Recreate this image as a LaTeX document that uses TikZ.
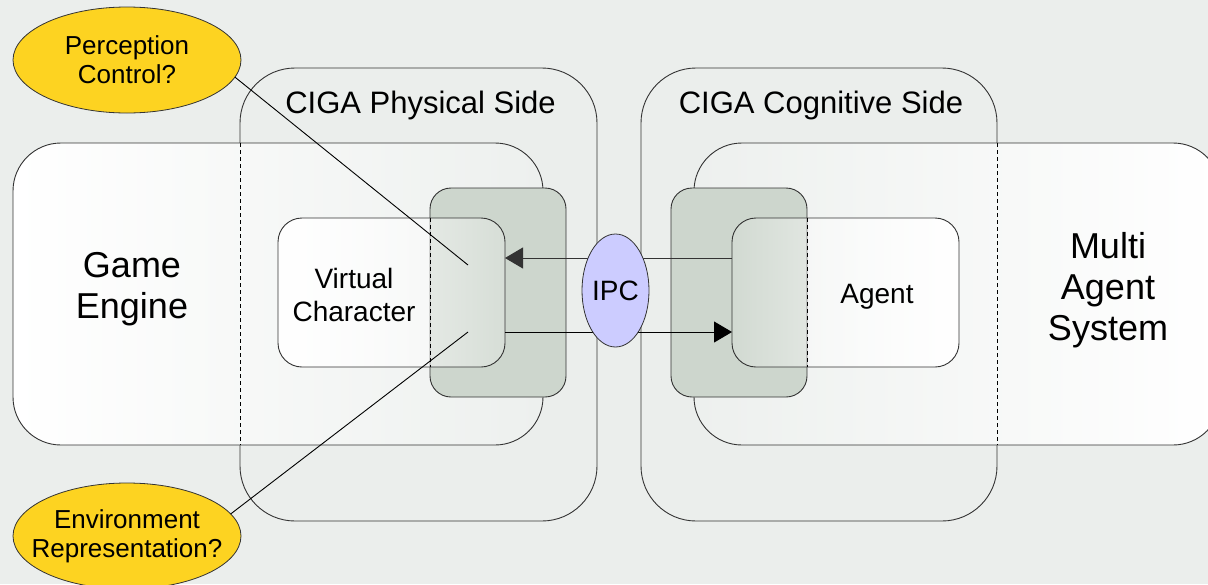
\documentclass[tikz,border=0pt]{standalone}
\usepackage{fontspec}
\setmainfont{Liberation Sans}
\usetikzlibrary{arrows.meta,positioning,shapes.geometric,fadings}

\definecolor{bgcol}{HTML}{EBEEEC}
\definecolor{zonegray}{HTML}{EDF0EE}
\definecolor{coregreen}{HTML}{CDD6CD}
\definecolor{noteyellow}{HTML}{FDD321}
\definecolor{ipcblue}{HTML}{CCCCFF}
\definecolor{edgegray}{HTML}{333333}

\tikzfading[name=fadevc, left color=transparent!0, right color=transparent!80]
\tikzfading[name=fadeagent, left color=transparent!90, right color=transparent!0]

\begin{document}
\begin{tikzpicture}[
  x=1pt, y=-1pt,
  every node/.style={inner sep=0pt, outer sep=0pt},
  side/.style={draw=edgegray, line width=0.9pt, fill=bgcol, rounded corners=55pt},
  zone/.style={draw=edgegray, line width=0.9pt, rounded corners=48pt},
  core/.style={draw=edgegray, line width=0.9pt, fill=coregreen, rounded corners=21pt,
    minimum width=136pt, minimum height=209pt},
  inner/.style={draw=edgegray, line width=0.9pt, rounded corners=24pt,
    minimum width=227pt, minimum height=149pt},
  hidden/.style={draw=black, line width=0.9pt, dash pattern=on 4pt off 3pt},
  note/.style={ellipse, draw=edgegray, line width=0.8pt, fill=noteyellow, align=center,
    inner xsep=-16pt, minimum width=228pt, minimum height=106pt,
    font=\fontsize{26}{29}\selectfont},
  arr/.style={-{Triangle[length=18pt,width=21pt]}, line width=1pt},
  pointer/.style={line width=0.9pt},
  bigtext/.style={align=center, font=\fontsize{36}{41}\selectfont},
  titletext/.style={font=\fontsize{31}{36}\selectfont},
  boxtext/.style={align=center, font=\fontsize{28}{33}\selectfont}
]
\fill[bgcol] (0,0) rectangle (1208,584);
\useasboundingbox (0,0) rectangle (1208,584);
\clip (0,0) rectangle (1208,584);

% the two CIGA sides
\node[side, minimum width=357pt, minimum height=453pt] (phys) at (418.5,294.5) {};
\node[side, minimum width=356pt, minimum height=453pt] (cog) at (819,294.5) {};

% game engine and multi agent system
\node[zone, left color=white, right color=zonegray,
  minimum width=530pt, minimum height=302pt] (engine) at (278,294) {};
\node[zone, left color=zonegray, right color=white,
  minimum width=527pt, minimum height=302pt] (mas) at (957.5,294) {};
\draw[hidden] (phys.west |- engine.north) -- (phys.west |- engine.south);
\draw[hidden] (cog.east |- mas.north) -- (cog.east |- mas.south);

% interface parts
\node[core] (physcore) at (498,292.5) {};
\node[core] (cogcore) at (739,292.5) {};
\node[inner, preaction={fill=white, path fading=fadevc}] (vc) at (391.5,292.5) {};
\node[inner, preaction={fill=white, path fading=fadeagent}] (agent) at (845.5,292.5) {};
\draw[hidden] (physcore.west |- vc.north) -- (physcore.west |- vc.south);
\draw[hidden] (cogcore.east |- agent.north) -- (cogcore.east |- agent.south);

% labels
\node[bigtext] (enginelabel) at (132,289) {Game\\Engine};
\node[bigtext] (maslabel) at (1108,290) {Multi\\Agent\\System};
\node[titletext, anchor=base] (physlabel) at (420.5,113) {CIGA Physical Side};
\node[titletext, anchor=base] (coglabel) at (821,113) {CIGA Cognitive Side};
\node[boxtext] (vclabel) at (354,295) {Virtual\\Character};
\node[boxtext, anchor=base] (agentlabel) at (877,303) {Agent};

% messages
\draw[arr, draw=edgegray] ([yshift=34.5pt]agent.west) -- ([yshift=34.5pt]vc.east);
\draw[arr] ([yshift=-39.5pt]vc.east) -- ([yshift=-39.5pt]agent.west);
\node[ellipse, draw=edgegray, line width=0.8pt, fill=ipcblue,
  minimum width=67pt, minimum height=113pt, font=\fontsize{28}{33}\selectfont]
  (ipc) at (615.5,290.5) {IPC};

% open questions
\node[note] (perc) at (127,60) {Perception\\Control?};
\node[note] (envr) at (127,536) {Environment\\Representation?};
\coordinate (perctip) at (468,265);
\coordinate (envtip) at (468,332);
\draw[pointer] (perc.-9) -- (perctip);
\draw[pointer] (envr.12) -- (envtip);
\end{tikzpicture}
\end{document}
